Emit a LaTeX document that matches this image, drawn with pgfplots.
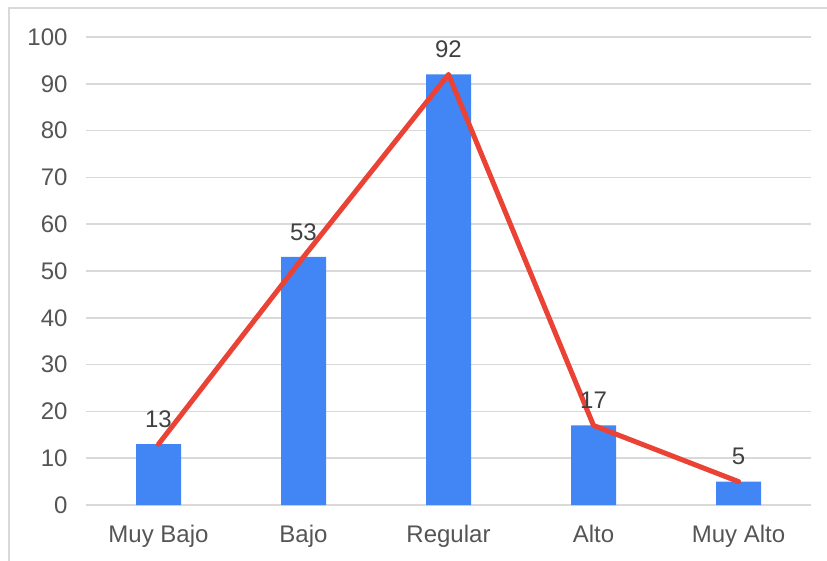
\documentclass[border=0pt]{standalone}
\usepackage{fontspec}
\setmainfont{Liberation Sans}
\usepackage{pgfplots}
\pgfplotsset{compat=1.18}
\definecolor{barblue}{HTML}{4285F4}
\definecolor{linered}{HTML}{EA4335}
\definecolor{gridgray}{HTML}{D9D9D9}
\definecolor{txtgray}{HTML}{555555}
\definecolor{lblgray}{HTML}{404040}
\begin{document}
\begin{tikzpicture}
\begin{axis}[
  at={(86bp,56bp)}, anchor=south west,
  scale only axis,
  width=725bp, height=468bp,
  xmin=-0.5, xmax=4.5,
  ymin=0, ymax=100,
  ytick={0,10,...,100},
  xtick={0,1,2,3,4},
  xticklabels={Muy Bajo,Bajo,Regular,Alto,Muy Alto},
  axis line style={draw=none},
  major tick length=0pt,
  ymajorgrids,
  grid style={gridgray, line width=1.6bp},
  /pgf/number format/assume math mode=true,
  tick label style={font=\fontsize{24bp}{28bp}\selectfont, text=txtgray},
  yticklabel style={xshift=-15bp},
  xticklabel style={yshift=-17bp},
  clip=false,
]
\addplot[ybar, bar width=45bp, fill=barblue, draw=none,
  nodes near coords,
  every node near coord/.append style={font=\fontsize{24bp}{28bp}\selectfont, text=lblgray, yshift=13bp}]
  coordinates {(0,13) (1,53) (2,92) (3,17) (4,5)};
\addplot[linered, line width=5bp, line join=round, line cap=round, mark=none]
  coordinates {(0,13) (1,53) (2,92) (3,17) (4,5)};
\end{axis}
\draw[gridgray, line width=2bp] (9bp,0) -- (9bp,553bp) -- (827bp,553bp);
\pgfresetboundingbox
\path[use as bounding box] (0,0) rectangle (827bp,561bp);
\end{tikzpicture}
\end{document}
